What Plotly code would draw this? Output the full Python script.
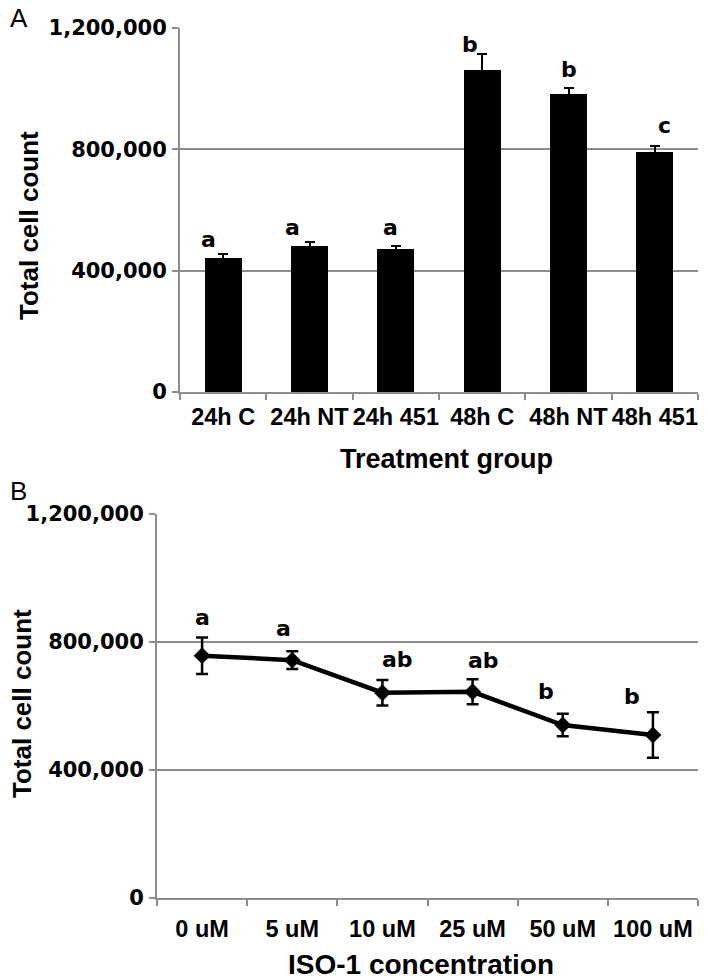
import plotly.graph_objects as go

# ---------------- data ----------------
groups_a = ["24h C", "24h NT", "24h 451", "48h C", "48h NT", "48h 451"]
counts_a = [443000, 482000, 471000, 1061000, 983000, 790000]
errors_a = [12000, 14000, 9000, 52000, 18000, 22000]
letters_a = ["a", "a", "a", "b", "b", "c"]

conc_b = ["0 uM", "5 uM", "10 uM", "25 uM", "50 uM", "100 uM"]
counts_b = [757000, 743000, 641000, 644000, 540000, 509000]
errors_b = [57000, 28000, 40000, 39000, 35000, 71000]
letters_b = ["a", "a", "ab", "ab", "b", "b"]

y_ticks = [0, 400000, 800000, 1200000]

# ---------------- style ----------------
W, H = 708, 979
OFF = 8  # page body margin
GRAY = "#8c8c8c"
WIDE = "DejaVu Sans"
ARIAL = "Liberation Sans, Arial, sans-serif"

# label nudges in pixels (style only)
xshift_a = [-15, -17, -5, -12, 0, 10]
yshift_a = [14, 14, 19, 10, 19, 20]
xshift_b = [0, -9, 15, 11, -17, -21]
yshift_b = [20, 23, 20, 19, 22, 16]


def px(x):
    return (x - OFF) / W


def py(y):
    return 1 - (y - OFF) / H


fig = go.Figure()

fig.add_trace(go.Bar(
    x=groups_a, y=counts_a, width=0.425,
    marker=dict(color="black", line=dict(width=0)),
    error_y=dict(type="data", array=errors_a, visible=True,
                 color="black", thickness=2, width=5),
    xaxis="x", yaxis="y", showlegend=False, hoverinfo="skip",
))

fig.add_trace(go.Scatter(
    x=conc_b, y=counts_b, mode="lines+markers",
    line=dict(color="black", width=4.5),
    marker=dict(symbol="diamond", size=13, color="black"),
    error_y=dict(type="data", array=errors_b, visible=True,
                 color="black", thickness=2.5, width=6),
    xaxis="x2", yaxis="y2", showlegend=False, hoverinfo="skip",
))

common_y = dict(
    range=[0, 1200000], tickvals=y_ticks, tickformat=",d",
    showgrid=True, gridcolor=GRAY, gridwidth=2,
    showline=True, linecolor=GRAY, linewidth=2,
    ticks="outside", ticklen=6, tickcolor=GRAY, tickwidth=2,
    tickfont=dict(family=WIDE, size=21, color="black", weight="bold"),
    zeroline=False, fixedrange=True, ticklabelstandoff=1, automargin=False,
)
common_x = dict(
    type="category", range=[-0.5, 5.5], tickangle=0,
    showline=True, linecolor=GRAY, linewidth=2,
    ticks="outside", tickson="boundaries", ticklen=6,
    tickcolor=GRAY, tickwidth=2, showgrid=False, zeroline=False,
    tickfont=dict(family=ARIAL, size=23.5, color="black", weight="bold"),
    fixedrange=True, automargin=False,
)

fig.update_layout(
    width=W, height=H,
    margin=dict(l=0, r=0, t=0, b=0, autoexpand=False),
    paper_bgcolor="white", plot_bgcolor="white",
    bargap=0,
    xaxis=dict(domain=[px(180), px(698)], anchor="y", ticklabelstandoff=3, **common_x),
    yaxis=dict(domain=[py(392), py(28)], anchor="x", **common_y),
    xaxis2=dict(domain=[px(157), px(698)], anchor="y2", ticklabelstandoff=9, **common_x),
    yaxis2=dict(domain=[py(897.7), py(514)], anchor="x2", **common_y),
)

ann = []
letter_font = dict(family=WIDE, size=22, color="black", weight="bold")
for g, v, e, t, xs, ys in zip(groups_a, counts_a, errors_a, letters_a, xshift_a, yshift_a):
    ann.append(dict(x=g, y=v + e, xref="x", yref="y", text=t, showarrow=False,
                    xanchor="center", yanchor="middle", xshift=xs, yshift=ys,
                    font=letter_font))
for g, v, e, t, xs, ys in zip(conc_b, counts_b, errors_b, letters_b, xshift_b, yshift_b):
    ann.append(dict(x=g, y=v + e, xref="x2", yref="y2", text=t, showarrow=False,
                    xanchor="center", yanchor="middle", xshift=xs, yshift=ys,
                    font=letter_font))

title_a = dict(family=ARIAL, size=27, color="black", weight="bold")
title_b = dict(family=ARIAL, size=28, color="black", weight="bold")
title_y = dict(family=ARIAL, size=26, color="black", weight="bold")
paper_labels = [
    ("Total cell count", 29, 226, -90, title_y),
    ("Treatment group", 446, 459, 0, title_a),
    ("Total cell count", 22, 704, -90, title_y),
    ("ISO-1 concentration", 421, 964, 0, title_b),
    ("A", 19, 18, 0, dict(family=ARIAL, size=26, color="black")),
    ("B", 18, 491, 0, dict(family=ARIAL, size=26, color="black")),
]
for text, x, y, ang, f in paper_labels:
    ann.append(dict(x=px(x), y=py(y), xref="paper", yref="paper", text=text,
                    textangle=ang, showarrow=False, xanchor="center",
                    yanchor="middle", font=f))
fig.update_layout(annotations=ann)

fig.write_html("out.html", config={"displayModeBar": False})
